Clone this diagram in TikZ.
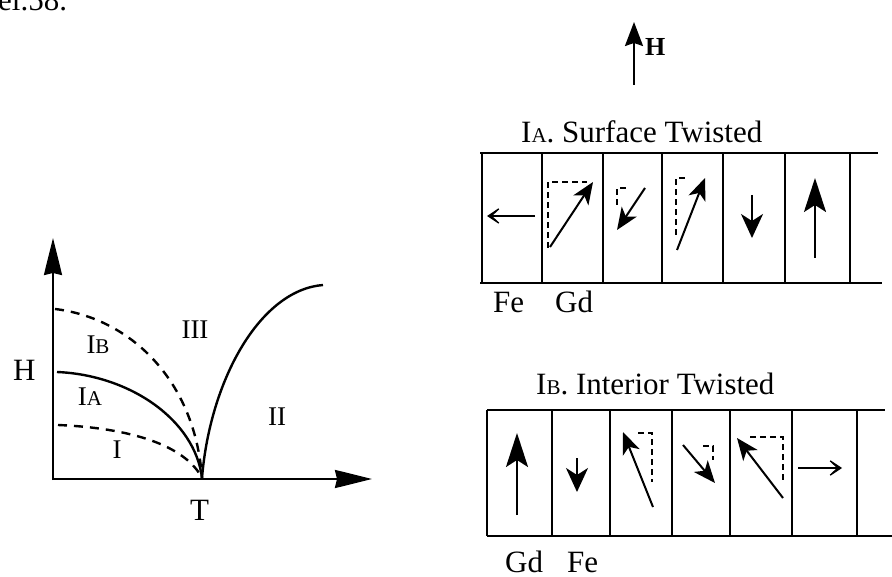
\documentclass[tikz,border=0pt]{standalone}
\usepackage{fontspec}
\setmainfont{Liberation Serif}
\usetikzlibrary{arrows.meta}
\newcommand{\smc}[1]{{\fontsize{21}{21}\selectfont #1}}
\begin{document}
\begin{tikzpicture}[x=1pt,y=-1pt,
  txt/.style={inner sep=0pt,font=\fontsize{31}{32}\selectfont},
  lab/.style={inner sep=0pt,font=\fontsize{27}{28}\selectfont},
  ln/.style={line width=2.3pt},
  cur/.style={line width=2.4pt},
  dsh/.style={line width=2.4pt,dash pattern=on 9pt off 7pt},
  cdsh/.style={line width=1.8pt,dash pattern=on 6pt off 4pt},
  axis/.style={line width=2.2pt,-{Stealth[length=37pt,width=18pt,inset=2pt]}},
  upar/.style={line width=2pt,-{Stealth[length=24pt,width=18pt,inset=3pt]}},
  bigar/.style={line width=2pt,-{Stealth[length=34pt,width=22pt,inset=7pt]}},
  dnar/.style={line width=2pt,-{Stealth[length=24pt,width=22pt,inset=7pt]}},
  diag/.style={line width=2pt,-{Stealth[length=22pt,width=18pt,inset=6pt]}},
  barb/.style={line width=2pt,-{Stealth[length=18pt,width=24pt,inset=13pt]}}]
\useasboundingbox (0,0) rectangle (892,577);
\fill[white] (0,0) rectangle (892,577);
% cut-off text at top left
\node[txt,anchor=base west] (topt) at (-2,11) {el.58.};
% ---- phase diagram ----
\coordinate (O) at (53,479);
\coordinate (ytip) at (53,238);
\coordinate (xtip) at (372,479);
\coordinate (P) at (202,478);
\draw[axis] (53,480) -- (ytip);
\draw[axis] (O) -- (xtip);
\draw[cur] (57,372) .. controls (130,375) and (195,420) .. (P);
\draw[dsh] (55,309) .. controls (130,318) and (195,380) .. (P);
\draw[dsh] (58,425) .. controls (130,428) and (185,445) .. (P);
\draw[cur] (P) .. controls (210,380) and (260,290) .. (323,285);
\node[txt,anchor=base west] (Hl) at (13,381) {H};
\node[txt,anchor=base west] (Tl) at (190,520) {T};
\node[lab] (rIB) at (98,345) {I\smc{B}};
\node[lab] (rIII) at (195,330) {III};
\node[lab] (rIA) at (90,397) {I\smc{A}};
\node[lab] (rII) at (277,417) {II};
\node[lab] (rI) at (117,450) {I};
% ---- field arrow ----
\coordinate (hb) at (634,85);
\coordinate (ht) at (634,22);
\draw[upar] (hb) -- (ht);
\node[inner sep=0pt,font=\fontsize{26}{27}\selectfont\bfseries,anchor=base west] (Hf) at (645,56) {H};
% ---- IA panel ----
\node[txt,anchor=base west] (tA) at (521,143) {I\smc{A}. Surface Twisted};
\draw[ln] (480,153) -- (878,153);
\draw[ln] (480,283) -- (882,283);
\foreach \x in {482,542,603,662,723,785,850} \draw[ln] (\x,153) -- (\x,283);
\draw[barb] (535,216) -- (487,216);
\draw[cdsh] (548,248) -- (548,182) -- (587,182);
\draw[diag] (550,247) -- (593,182);
\draw[cdsh] (617,205) -- (617,188) -- (627,188);
\draw[diag] (645,188) -- (617,230);
\draw[cdsh] (676,235) -- (676,178) -- (688,178);
\draw[diag] (677,250) -- (705,178);
\draw[dnar] (752,195) -- (752,238);
\draw[bigar] (815,258) -- (815,178);
\node[txt,anchor=base west] (feA) at (493,313) {Fe};
\node[txt,anchor=base west] (gdA) at (555,313) {Gd};
% ---- IB panel ----
\node[txt,anchor=base west] (tB) at (536,395) {I\smc{B}. Interior Twisted};
\draw[ln] (487,410) -- (885,410);
\draw[ln] (487,536) -- (892,536);
\foreach \x in {487,552,610,672,730,792,857} \draw[ln] (\x,410) -- (\x,536);
\draw[bigar] (517,515) -- (517,433);
\draw[dnar] (577,458) -- (577,492);
\draw[cdsh] (638,433) -- (652,433) -- (652,482);
\draw[diag] (653,507) -- (623,432);
\draw[cdsh] (703,446) -- (713,446) -- (713,460);
\draw[diag] (683,445) -- (715,483);
\draw[cdsh] (750,437) -- (783,437) -- (783,482);
\draw[diag] (783,498) -- (737,438);
\draw[barb] (798,468) -- (842,468);
\node[txt,anchor=base west] (gdB) at (505,572) {Gd};
\node[txt,anchor=base west] (feB) at (567,572) {Fe};
\end{tikzpicture}
\end{document}
